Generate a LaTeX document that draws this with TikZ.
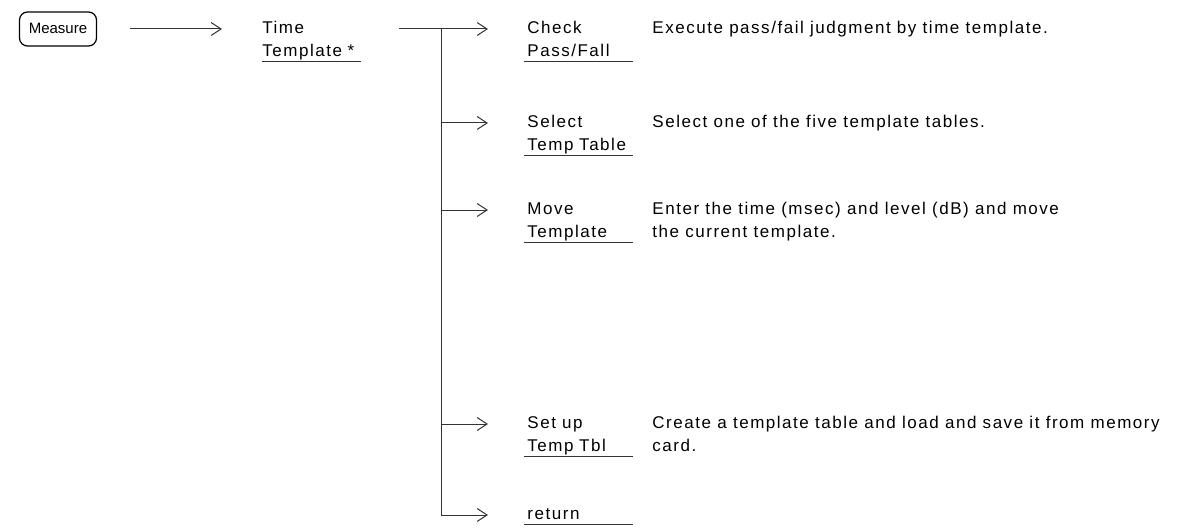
\documentclass[tikz,border=0pt]{standalone}
\usepackage{fontspec}
\setmainfont[LetterSpace=9]{Liberation Sans}
\usetikzlibrary{positioning,arrows.meta}

\begin{document}
\begin{tikzpicture}[x=0.5pt,y=-0.5pt,>={Straight Barb[length=5pt,width=6.5pt]},
   every node/.style={font=\fontsize{8.5}{10}\selectfont,inner sep=0pt,anchor=west,
     text height=6pt,text depth=1.8pt},
   conn/.style={->,draw=black!80,line width=0.5pt},
   ul/.style={draw=black!80,line width=0.5pt},
   keybox/.style={draw,rounded corners=4pt,anchor=center,line width=0.6pt,
     minimum width=38.5pt,minimum height=17pt},
   sub/.style={text width=#1}, sub/.default=54pt]
  \useasboundingbox (0,0) rectangle (1197,529);

  % hard key and first level
  \node[keybox,font=\fontsize{7.5}{9}\selectfont] (measure) at (58,29)
    {\addfontfeature{LetterSpace=0}Measure};
  \node (time) at (262,29) {Time};
  \node[sub=49pt] (timeb) at (262,52) {Template *};
  \draw[ul] ([yshift=-0.5pt]timeb.south west) -- ([yshift=-0.5pt]timeb.south east);
  \draw[conn] ([xshift=16.5pt]measure.east) -- ([xshift=-20pt]time.west);

  % soft keys
  \node (chk) at (527,29) {Check};
  \node[sub] (chkb) at (524,52) {\hspace{1.5pt}Pass/Fall};
  \node (sel) at (527,123) {Select};
  \node[sub] (selb) at (524,146) {\hspace{1.5pt}Temp Table};
  \node (mov) at (527,210) {Move};
  \node[sub] (movb) at (524,233) {\hspace{1.5pt}Template};
  \node (set) at (527,424) {Set up};
  \node[sub] (setb) at (524,447) {\hspace{1.5pt}Temp Tbl};
  \node[sub] (ret) at (524,515) {\hspace{1.5pt}return};
  \foreach \n in {chkb,selb,movb,setb,ret}
    \draw[ul] ([yshift=-0.5pt]\n.south west) -- ([yshift=-0.5pt]\n.south east);

  % descriptions
  \node (chkd) at (652,29) {Execute pass/fail judgment by time template.};
  \node (seld) at (652,123) {Select one of the five template tables.};
  \node (movd) at (652,210) {Enter the time (msec) and level (dB) and move};
  \node (movd2) at (652,233) {the current template.};
  \node (setd) at (652,424) {Create a template table and load and save it from memory};
  \node (setd2) at (652,447) {card.};

  % tree
  \coordinate (fork) at (441,29);
  \draw[conn] ([xshift=19pt]timeb.east |- time) -- ([xshift=-19.5pt]chk.west);
  \draw[conn] (fork |- sel) -- ([xshift=-19.5pt]sel.west);
  \draw[conn] (fork |- mov) -- ([xshift=-19.5pt]mov.west);
  \draw[conn] (fork |- set) -- ([xshift=-19.5pt]set.west);
  \draw[conn] (fork) |- ([xshift=-18pt]ret.west);
\end{tikzpicture}
\end{document}
